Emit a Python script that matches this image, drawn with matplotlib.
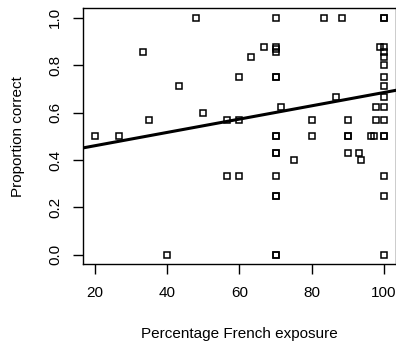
import numpy as np
import matplotlib
matplotlib.use('Agg')
import matplotlib.pyplot as plt

# Percentage French exposure vs proportion correct
exposure = [20, 26.7, 33.3, 35, 40, 43.3, 48, 50, 56.5, 56.5,
            60, 60, 60, 63.3, 66.7,
            70, 70, 70, 70, 70, 70, 70, 70, 70, 70, 70, 70, 70, 70, 70,
            71.4, 75, 80, 80, 83.3, 86.7, 88.3, 90, 90, 90, 90, 93, 93.5,
            96.4, 97.3, 97.8, 97.8, 98.9,
            100, 100, 100, 100, 100, 100, 100, 100, 100, 100, 100, 100, 100, 100, 100, 100]
correct = [0.5, 0.5, 0.857, 0.571, 0.0, 0.714, 1.0, 0.6, 0.571, 0.333,
           0.571, 0.333, 0.75, 0.833, 0.875,
           1.0, 0.875, 0.867, 0.857, 0.75, 0.75, 0.5, 0.5, 0.429, 0.429, 0.333, 0.25, 0.25, 0.0, 0.0,
           0.625, 0.4, 0.571, 0.5, 1.0, 0.667, 1.0, 0.571, 0.5, 0.5, 0.429, 0.429, 0.4,
           0.5, 0.5, 0.625, 0.571, 0.875,
           1.0, 1.0, 0.875, 0.857, 0.833, 0.8, 0.75, 0.714, 0.667, 0.625, 0.571, 0.5, 0.5, 0.333, 0.25, 0.0]

# regression line as drawn in the original (intercept, slope)
fit_intercept = 0.404
fit_slope = 0.00281

xticks = [20, 40, 60, 80, 100]
yticks = [0.0, 0.2, 0.4, 0.6, 0.8, 1.0]

plt.rcParams['font.family'] = ['Liberation Sans', 'DejaVu Sans']

fig = plt.figure(figsize=(3.96, 3.5), dpi=100)
ax = fig.add_axes([0.210, 0.245, 0.789, 0.731])

x = np.array(exposure)
y = np.array(correct)
ax.plot(x, y, 's', mfc='none', mec='black', ms=5, mew=1.1, clip_on=False)

xl = np.array([0, 120])
ax.plot(xl, fit_intercept + fit_slope * xl, '-', color='black', lw=2.2)

ax.set_xlim(16.8, 103.2)
ax.set_ylim(-0.04, 1.04)
ax.set_xticks(xticks)
ax.set_xticklabels([str(t) for t in xticks])
ax.set_yticks(yticks)
ax.set_yticklabels(['%.1f' % t for t in yticks], rotation=90, va='center')
ax.tick_params(direction='out', length=7, width=1, labelsize=11, pad=8)
ax.tick_params(axis='x', pad=9)
for s in ax.spines.values():
    s.set_linewidth(1)

ax.set_xlabel('Percentage French exposure', fontsize=11, labelpad=19)
ax.set_ylabel('Proportion correct', fontsize=11, labelpad=17)

fig.savefig('out.png', dpi=100)
